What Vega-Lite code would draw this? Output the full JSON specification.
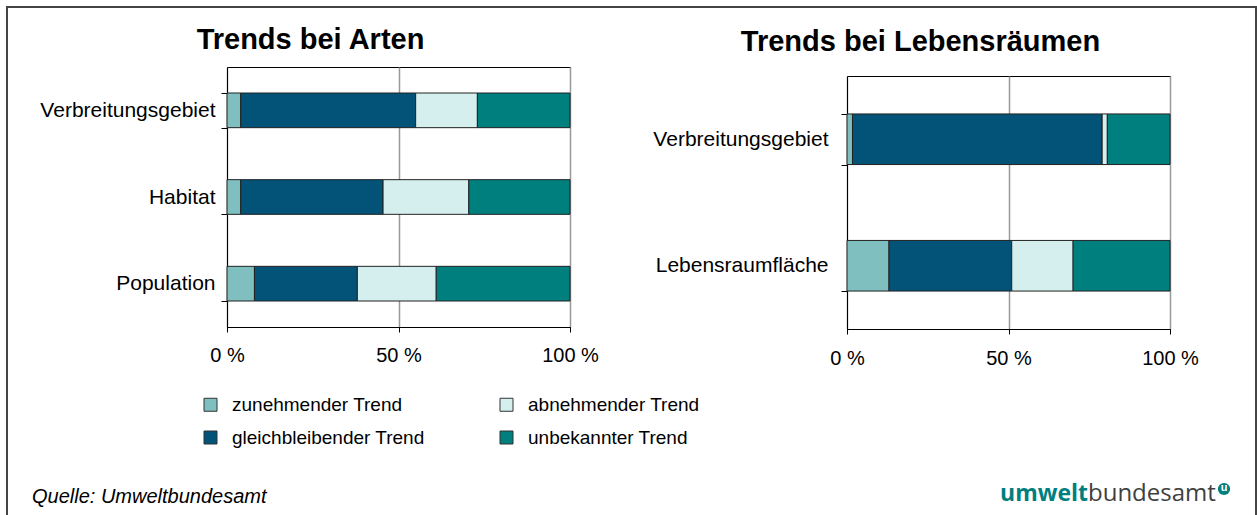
{
  "$schema": "https://vega.github.io/schema/vega-lite/v6.json",
  "background": "white",
  "padding": {"left": 6, "top": 6, "right": 0, "bottom": 0},
  "config": {
    "font": "Liberation Sans",
    "view": {"stroke": null},
    "axis": {"labelColor": "#000", "domainColor": "#000", "tickColor": "#000", "labelFont": "Liberation Sans"},
    "title": {"color": "#000", "font": "Liberation Sans", "fontSize": 29, "fontWeight": "bold"},
    "legend": {
      "orient": "none",
      "legendX": -26,
      "legendY": 328,
      "columns": 2,
      "columnPadding": 72,
      "rowPadding": 13,
      "padding": 0,
      "symbolType": "square",
      "symbolSize": 169,
      "symbolStrokeColor": "#333",
      "symbolStrokeWidth": 1,
      "labelFontSize": 19,
      "labelOffset": 12,
      "labelColor": "#000",
      "labelLimit": 400
    }
  },
  "datasets": {
    "arten": [
      {"kategorie": "Verbreitungsgebiet", "trend": "zunehmender Trend", "ord": 1, "anteil": 4},
      {"kategorie": "Verbreitungsgebiet", "trend": "gleichbleibender Trend", "ord": 2, "anteil": 51},
      {"kategorie": "Verbreitungsgebiet", "trend": "abnehmender Trend", "ord": 3, "anteil": 18},
      {"kategorie": "Verbreitungsgebiet", "trend": "unbekannter Trend", "ord": 4, "anteil": 27},
      {"kategorie": "Habitat", "trend": "zunehmender Trend", "ord": 1, "anteil": 4},
      {"kategorie": "Habitat", "trend": "gleichbleibender Trend", "ord": 2, "anteil": 41.5},
      {"kategorie": "Habitat", "trend": "abnehmender Trend", "ord": 3, "anteil": 25},
      {"kategorie": "Habitat", "trend": "unbekannter Trend", "ord": 4, "anteil": 29.5},
      {"kategorie": "Population", "trend": "zunehmender Trend", "ord": 1, "anteil": 8},
      {"kategorie": "Population", "trend": "gleichbleibender Trend", "ord": 2, "anteil": 30},
      {"kategorie": "Population", "trend": "abnehmender Trend", "ord": 3, "anteil": 23},
      {"kategorie": "Population", "trend": "unbekannter Trend", "ord": 4, "anteil": 39}
    ],
    "lebensraum": [
      {"kategorie": "Verbreitungsgebiet", "trend": "zunehmender Trend", "ord": 1, "anteil": 1.7},
      {"kategorie": "Verbreitungsgebiet", "trend": "gleichbleibender Trend", "ord": 2, "anteil": 77.3},
      {"kategorie": "Verbreitungsgebiet", "trend": "abnehmender Trend", "ord": 3, "anteil": 1.6},
      {"kategorie": "Verbreitungsgebiet", "trend": "unbekannter Trend", "ord": 4, "anteil": 19.4},
      {"kategorie": "Lebensraumfläche", "trend": "zunehmender Trend", "ord": 1, "anteil": 13},
      {"kategorie": "Lebensraumfläche", "trend": "gleichbleibender Trend", "ord": 2, "anteil": 38},
      {"kategorie": "Lebensraumfläche", "trend": "abnehmender Trend", "ord": 3, "anteil": 19},
      {"kategorie": "Lebensraumfläche", "trend": "unbekannter Trend", "ord": 4, "anteil": 30}
    ]
  },
  "spacing": -363,
  "vconcat": [
    {
      "spacing": 53,
      "hconcat": [
        {
          "data": {"name": "arten"},
          "title": {"text": "Trends bei Arten", "dx": -88, "offset": 1},
          "width": 343,
          "height": 260,
          "view": {"stroke": "#000", "strokeWidth": 1},
          "mark": {"type": "bar", "stroke": "#222", "strokeWidth": 1},
          "encoding": {
            "y": {
              "field": "kategorie", "type": "nominal",
              "sort": ["Verbreitungsgebiet", "Habitat", "Population"],
              "scale": {"paddingInner": 0.6, "paddingOuter": 0.3},
              "axis": {"title": null, "tickBand": "extent", "labelFontSize": 21, "tickSize": 6, "labelPadding": 6, "labelLimit": 300}
            },
            "x": {
              "field": "anteil", "type": "quantitative", "stack": "zero",
              "scale": {"domain": [0, 100], "nice": false},
              "axis": {"title": null, "values": [0, 50, 100], "labelExpr": "datum.value + ' %'", "labelFlush": false, "labelOverlap": false, "labelFontSize": 20, "tickSize": 5, "labelPadding": 13, "grid": true, "gridColor": "#999", "gridWidth": 1.5}
            },
            "color": {
              "field": "trend", "type": "nominal",
              "scale": {
                "domain": ["zunehmender Trend", "gleichbleibender Trend", "abnehmender Trend", "unbekannter Trend"],
                "range": ["#80BFBF", "#035378", "#D5EFEF", "#007F7F"]
              },
              "legend": {"title": null}
            },
            "order": {"field": "ord", "type": "quantitative"}
          }
        },
        {
          "spacing": -4,
          "vconcat": [
            {
              "data": {"values": [{}]},
              "title": {"text": "Trends bei Lebensräumen", "dx": -88, "offset": 10},
              "width": 323,
              "height": 1,
              "mark": {"type": "rule", "opacity": 0},
              "encoding": {}
            },
            {
              "data": {"name": "lebensraum"},
              "width": 323,
              "height": 253,
              "view": {"stroke": "#000", "strokeWidth": 1},
              "mark": {"type": "bar", "stroke": "#222", "strokeWidth": 1},
              "encoding": {
                "y": {
                  "field": "kategorie", "type": "nominal",
                  "sort": ["Verbreitungsgebiet", "Lebensraumfläche"],
                  "scale": {"paddingInner": 0.6, "paddingOuter": 0.3},
                  "axis": {"title": null, "tickBand": "extent", "labelFontSize": 21, "tickSize": 6, "labelPadding": 13, "labelLimit": 300}
                },
                "x": {
                  "field": "anteil", "type": "quantitative", "stack": "zero",
                  "scale": {"domain": [0, 100], "nice": false},
                  "axis": {"title": null, "values": [0, 50, 100], "labelExpr": "datum.value + ' %'", "labelFlush": false, "labelOverlap": false, "labelFontSize": 20, "tickSize": 5, "labelPadding": 14, "grid": true, "gridColor": "#999", "gridWidth": 1.5}
                },
                "color": {
                  "field": "trend", "type": "nominal",
                  "scale": {
                    "domain": ["zunehmender Trend", "gleichbleibender Trend", "abnehmender Trend", "unbekannter Trend"],
                    "range": ["#80BFBF", "#035378", "#D5EFEF", "#007F7F"]
                  },
                  "legend": {"title": null}
                },
                "order": {"field": "ord", "type": "quantitative"}
              }
            }
          ]
        }
      ]
    },
    {
      "data": {"values": [{}]},
      "width": 1000,
      "height": 40,
      "layer": [
        {
          "mark": {"type": "rect", "fill": "white", "fillOpacity": 0, "stroke": "#444", "strokeWidth": 2},
          "encoding": {
            "x": {"datum": -220, "type": "quantitative", "scale": {"domain": [0, 1000], "nice": false, "zero": false}, "axis": null},
            "x2": {"datum": 1029},
            "y": {"datum": 512, "type": "quantitative", "scale": {"domain": [0, 40], "nice": false, "zero": false}, "axis": null},
            "y2": {"datum": -1}
          }
        },
        {
          "mark": {"type": "text", "text": "Quelle: Umweltbundesamt", "align": "left", "baseline": "alphabetic", "fontSize": 20, "fontStyle": "italic", "color": "#000"},
          "encoding": {
            "x": {"datum": -195, "type": "quantitative"},
            "y": {"datum": 16, "type": "quantitative"}
          }
        },
        {
          "mark": {"type": "text", "text": "umwelt", "align": "right", "baseline": "alphabetic", "fontSize": 23, "fontWeight": "bold", "font": "Open Sans", "color": "#007F7F"},
          "encoding": {"x": {"datum": 861, "type": "quantitative"}, "y": {"datum": 18, "type": "quantitative"}}
        },
        {
          "mark": {"type": "text", "text": "bundesamt", "align": "left", "baseline": "alphabetic", "fontSize": 24, "font": "Open Sans", "color": "#404040"},
          "encoding": {"x": {"datum": 861, "type": "quantitative"}, "y": {"datum": 18, "type": "quantitative"}}
        },
        {
          "mark": {"type": "point", "shape": "circle", "filled": true, "size": 150, "color": "#007F7F", "opacity": 1},
          "encoding": {"x": {"datum": 997, "type": "quantitative"}, "y": {"datum": 30, "type": "quantitative"}}
        },
        {
          "mark": {"type": "text", "text": "u", "align": "center", "baseline": "middle", "fontSize": 11, "fontWeight": "bold", "color": "white", "dy": -1},
          "encoding": {"x": {"datum": 997, "type": "quantitative"}, "y": {"datum": 30, "type": "quantitative"}}
        }
      ]
    }
  ]
}
